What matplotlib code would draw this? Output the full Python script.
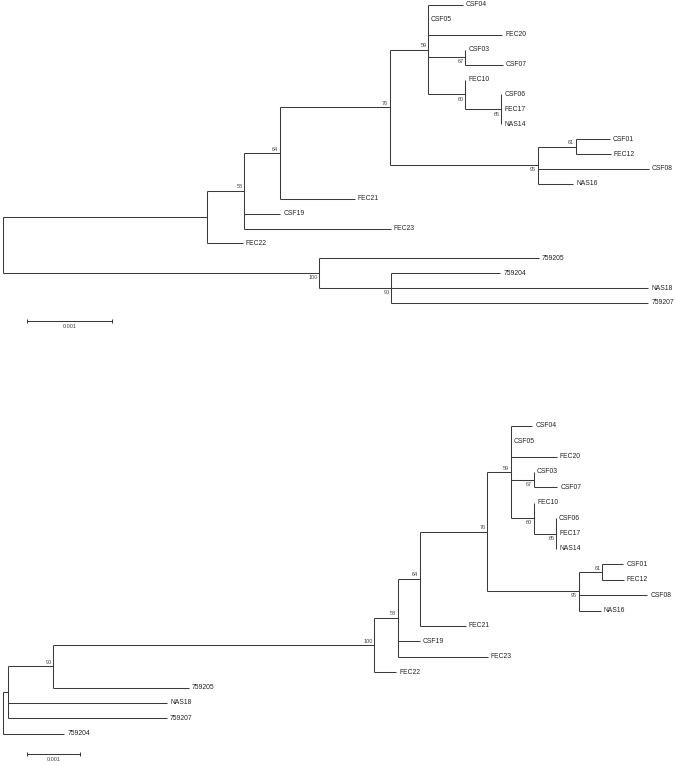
import matplotlib
matplotlib.use("Agg")
import matplotlib.pyplot as plt
from matplotlib.transforms import offset_copy

plt.rcParams['font.family'] = ['Liberation Sans', 'DejaVu Sans']

# ingroup clade shared by both trees (support values as internal labels)
INGROUP = ("(((((CSF04:0.00041,CSF05:0,FEC20:0.00087,(CSF03:0,CSF07:0.00044)67:0.00044,"
           "(FEC10:0,(CSF06:0,FEC17:0,NAS14:0)65:0.00042)60:0.00044)59:0.00045,"
           "((CSF01:0.00040,FEC12:0.00041)61:0.00045,CSF08:0.00131,NAS16:0.00042)95:0.00174)76:0.00129,"
           "FEC21:0.00088)64:0.00042,CSF19:0.00042,FEC23:0.00172)58:0.00044,FEC22:0.00042)")

# top: rooted between ingroup and the 7592xx / NAS18 group
TREE_TOP = (INGROUP + ":0.00240,(759205:0.00258,(759204:0.00128,NAS18:0.00302,"
            "759207:0.00302)90:0.00085)100:0.00372")
TREE_TOP = "(" + TREE_TOP + ");"
# bottom: same tree rooted on the 759204 branch
TREE_BOT = ("(((" + INGROUP + "100:0.00612,759205:0.00258)90:0.00085,NAS18:0.00302,"
            "759207:0.00302):0.00011,759204:0.00117);")

SCALE_LEN = 0.001
SCALE_TEXT = "0.001"


def parse(s):
    pos = [0]

    def node():
        n = {"children": [], "name": "", "len": 0.0}
        if s[pos[0]] == "(":
            pos[0] += 1
            while True:
                n["children"].append(node())
                c = s[pos[0]]
                pos[0] += 1
                if c == ")":
                    break
        start = pos[0]
        while s[pos[0]] not in ",():;":
            pos[0] += 1
        n["name"] = s[start:pos[0]]
        if s[pos[0]] == ":":
            pos[0] += 1
            start = pos[0]
            while s[pos[0]] not in ",();":
                pos[0] += 1
            n["len"] = float(s[start:pos[0]])
        return n
    return node()


def layout(n, x=0.0, counter=None):
    if counter is None:
        counter = [0]
    n["x"] = x
    if not n["children"]:
        n["y"] = counter[0]
        counter[0] += 1
    else:
        for c in n["children"]:
            layout(c, x + c["len"], counter)
        n["y"] = (n["children"][0]["y"] + n["children"][-1]["y"]) / 2.0
    return n


LC = "#3a3a3a"


def draw(ax, n, fig):
    tip_tr = offset_copy(ax.transData, fig=fig, x=2.2, y=0, units="points")
    above_tr = offset_copy(ax.transData, fig=fig, x=-1.2, y=1.0, units="points")
    below_tr = offset_copy(ax.transData, fig=fig, x=-1.2, y=-1.6, units="points")

    def rec(n, first):
        ch = n["children"]
        if not ch:
            ax.text(n["x"], n["y"], n["name"], transform=tip_tr, fontsize=4.9,
                    va="center", ha="left", color="#222222")
            return
        ax.plot([n["x"], n["x"]], [ch[0]["y"], ch[-1]["y"]], color=LC, lw=0.75,
                solid_capstyle="butt")
        for i, c in enumerate(ch):
            ax.plot([n["x"], c["x"]], [c["y"], c["y"]], color=LC, lw=0.75,
                    solid_capstyle="butt")
            rec(c, i == 0)
        if n["name"]:
            if first:
                ax.text(n["x"], n["y"], n["name"], transform=above_tr, fontsize=4.0,
                        ha="right", va="bottom", color="#444444")
            else:
                ax.text(n["x"], n["y"], n["name"], transform=below_tr, fontsize=4.0,
                        ha="right", va="top", color="#444444")
    rec(n, True)


def scalebar(ax, x0, y, fig):
    ax.plot([x0, x0 + SCALE_LEN], [y, y], color=LC, lw=0.75, marker="|",
            markersize=3.5, markeredgewidth=0.75)
    tr = offset_copy(ax.transData, fig=fig, x=0, y=-2.0, units="points")
    ax.text(x0 + SCALE_LEN / 2, y, SCALE_TEXT, transform=tr, fontsize=4.0,
            ha="center", va="top", color="#444444")


fig = plt.figure(figsize=(6.75, 7.66), dpi=100)
half = 383 / 766

# top panel: 85 px per 0.001, root at x=3 px, leaves 14.9 px apart from y=5
ax1 = fig.add_axes([0, half, 1, half])
top = layout(parse(TREE_TOP))
draw(ax1, top, fig)
ax1.set_xlim(-3 / 85000, 672 / 85000)
ax1.set_ylim((383 - 5) / 14.9, -5 / 14.9)
scalebar(ax1, 24 / 85000, (321 - 5) / 14.9, fig)
ax1.axis("off")

# bottom panel: 52.5 px per 0.001, leaves 15.4 px apart
ax2 = fig.add_axes([0, 0, 1, half])
bot = layout(parse(TREE_BOT))
draw(ax2, bot, fig)
ax2.set_xlim(-2.7 / 52500, 672.3 / 52500)
ax2.set_ylim((383 - 42.7) / 15.4, -42.7 / 15.4)
scalebar(ax2, 24.6 / 52500, (371 - 42.7) / 15.4, fig)
ax2.axis("off")

fig.savefig("out.png", dpi=100, facecolor="white")
